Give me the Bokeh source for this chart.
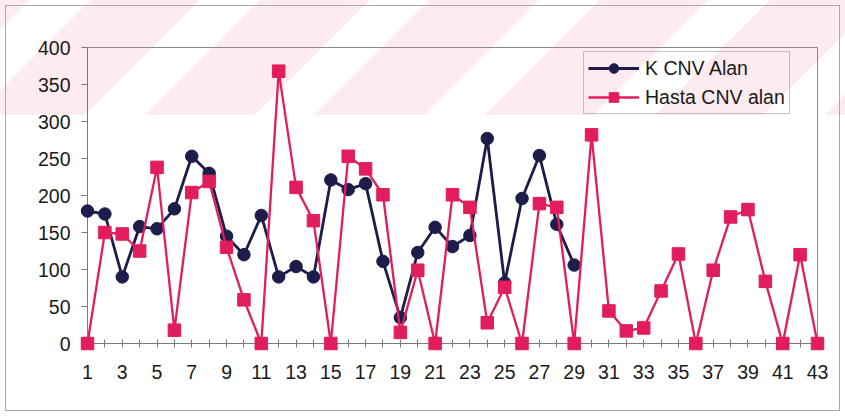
from bokeh.plotting import figure
from bokeh.models import FixedTicker, Legend, LegendItem
from bokeh.embed import file_html
from bokeh.resources import INLINE

# Sample index (1..43) and CNV area per sample
k_idx = list(range(1, 30))
k_cnv = [179, 175, 90, 158, 155, 182, 253, 230, 145, 120, 173, 90, 104, 90, 221,
         208, 216, 111, 35, 123, 157, 131, 146, 277, 82, 196, 254, 161, 106]

hasta_idx = list(range(1, 44))
hasta_cnv = [0, 150, 148, 125, 238, 18, 204, 219, 130, 59, 0, 368, 211, 166, 0,
             253, 236, 201, 15, 99, 0, 201, 184, 28, 76, 0, 189, 184, 0, 282,
             44, 17, 21, 71, 121, 0, 99, 171, 181, 84, 0, 120, 0]

y_ticks = [0, 50, 100, 150, 200, 250, 300, 350, 400]
x_ticks = list(range(1, 44))
x_labels = {i: (str(i) if i % 2 == 1 else "") for i in x_ticks}

NAVY = "#1c1d4a"
PINK = "#e21d5b"
AXIS = "#7a7a7a"
FONT = "Liberation Sans"
FS = "19.5px"

p = figure(width=845, height=416, x_range=(1, 43), y_range=(0, 400),
           output_backend="svg", toolbar_location=None,
           min_border_left=87, min_border_right=28,
           min_border_top=47, min_border_bottom=73)

p.background_fill_alpha = 0
p.border_fill_alpha = 0
p.outline_line_color = "#8a8a8a"
p.outline_line_width = 1
p.grid.visible = False

p.styles = {
    "background-image": ("repeating-linear-gradient(135deg, "
                         "#fdebf0 0px, #fdebf0 21px, #ffffff 21px, #ffffff 64px, "
                         "#fdebf0 64px, #fdebf0 120px)"),
    "background-size": "100% 115px",
    "background-repeat": "no-repeat",
    "background-color": "#ffffff",
    "outline": "1px solid #a8a8a8",
    "outline-offset": "-6px",
}

# axes
yax = p.yaxis[0]
yax.ticker = FixedTicker(ticks=y_ticks)
yax.major_tick_in = 0
yax.major_tick_out = 6
yax.minor_tick_line_color = None
yax.axis_line_color = AXIS
yax.major_tick_line_color = AXIS
yax.major_label_text_font = FONT
yax.major_label_text_font_size = FS
yax.major_label_text_color = "#1a1a1a"
yax.major_label_standoff = 11

xax = p.xaxis[0]
xax.ticker = FixedTicker(ticks=x_ticks)
xax.major_label_overrides = x_labels
xax.major_tick_in = 4
xax.major_tick_out = 4
xax.minor_tick_line_color = None
xax.axis_line_color = AXIS
xax.major_tick_line_color = AXIS
xax.major_label_text_font = FONT
xax.major_label_text_font_size = FS
xax.major_label_text_color = "#1a1a1a"
xax.major_label_standoff = 17

# series, drawn on the overlay level so markers on the plot edges stay whole
k_line = p.line(k_idx, k_cnv, line_color=NAVY, line_width=2.8, level="overlay")
k_pts = p.scatter(k_idx, k_cnv, marker="circle", size=12.5,
                  fill_color=NAVY, line_color=NAVY, level="overlay")
h_line = p.line(hasta_idx, hasta_cnv, line_color=PINK, line_width=2.3,
                level="overlay")
h_pts = p.scatter(hasta_idx, hasta_cnv, marker="square", size=12.5,
                  fill_color=PINK, line_color=PINK, level="overlay")

legend = Legend(items=[
    LegendItem(label="K CNV Alan", renderers=[k_line, k_pts]),
    LegendItem(label="Hasta CNV alan", renderers=[h_line, h_pts]),
])
legend.location = (496, 229)
legend.margin = 0
legend.padding = 4
legend.spacing = 5
legend.glyph_width = 51
legend.glyph_height = 24
legend.label_height = 24
legend.label_standoff = 6
legend.label_text_font = FONT
legend.label_text_font_size = FS
legend.label_text_color = "#1a1a1a"
legend.border_line_color = "#8a8a8a"
legend.border_line_width = 1
legend.background_fill_alpha = 0
p.add_layout(legend, "center")

open("out.html", "w").write(file_html(p, INLINE))
